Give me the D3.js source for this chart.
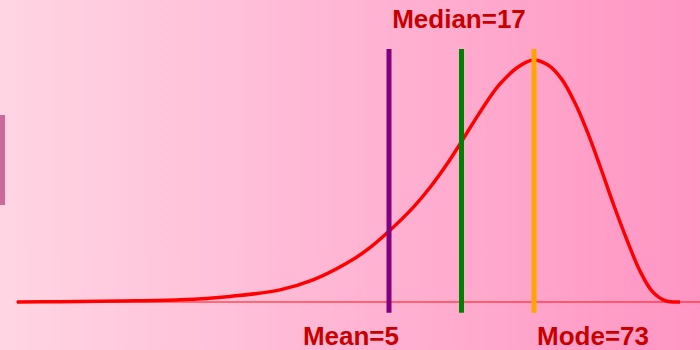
<!DOCTYPE html>
<html>
<head>
<meta charset="utf-8">
<script src="https://cdn.jsdelivr.net/npm/d3@7"></script>
<style>
  html, body { margin: 0; padding: 0; }
  svg { display: block; }
  text { font-family: "Liberation Sans", Arial, sans-serif; font-weight: bold; }
</style>
</head>
<body>
<svg id="chart" width="700" height="350"></svg>
<script>
// Left-skewed density curve (x in arbitrary units, density scaled to peak = 1)
const curveX = [1.7, 6, 12, 18, 23, 28, 31.3, 34.7, 36.7, 38.7, 41.3, 43, 44.7, 46, 47.3, 48.7, 50, 51.7, 53.3, 54.8, 56.2, 57.5, 58.7, 60, 61.3, 62.7, 64, 65.2, 66.5, 68];
const curveY = [0, 0.001, 0.004, 0.009, 0.023, 0.05, 0.091, 0.161, 0.215, 0.285, 0.39, 0.473, 0.57, 0.653, 0.739, 0.829, 0.901, 0.968, 1.0, 0.979, 0.919, 0.822, 0.707, 0.562, 0.409, 0.256, 0.128, 0.045, 0.006, 0];

// Central tendency markers
const statNames = ["Mean", "Median", "Mode"];
const statValues = [5, 17, 73];
const statColors = ["#800080", "#008000", "#ffa500"];

const width = 700, height = 350;
const svg = d3.select("#chart");

// Background gradient
const defs = svg.append("defs");
const grad = defs.append("linearGradient").attr("id", "bg").attr("x1", "0%").attr("x2", "100%").attr("y1", "0%").attr("y2", "0%");
grad.append("stop").attr("offset", "0%").attr("stop-color", "#ffd5e3");
grad.append("stop").attr("offset", "100%").attr("stop-color", "#ff95c3");
svg.append("rect").attr("width", width).attr("height", height).attr("fill", "url(#bg)");

// small tab on the left edge
svg.append("rect").attr("x", 0).attr("y", 115).attr("width", 5).attr("height", 90).attr("fill", "#c96a9b");

const x = d3.scaleLinear().domain([0, 70]).range([0, 700]);
const y = d3.scaleLinear().domain([0, 1]).range([302, 60]);
const statX = d3.scalePoint().domain(statNames).range([389, 534]);

// baseline
svg.append("line")
  .attr("x1", x(1.6)).attr("x2", width)
  .attr("y1", y(0)).attr("y2", y(0))
  .attr("stroke", "#ff0000").attr("stroke-opacity", 0.45).attr("stroke-width", 2);

// density curve
const pts = curveX.map((v, i) => [v, curveY[i]]);
svg.append("path")
  .datum(pts)
  .attr("fill", "none")
  .attr("stroke", "#ff0000")
  .attr("stroke-width", 3.5)
  .attr("stroke-linejoin", "round")
  .attr("d", d3.line().x(d => x(d[0])).y(d => y(d[1])).curve(d3.curveCatmullRom.alpha(0.5)));

// marker lines
svg.selectAll("line.stat")
  .data(statNames)
  .join("line")
  .attr("class", "stat")
  .attr("x1", d => statX(d)).attr("x2", d => statX(d))
  .attr("y1", y(1.045)).attr("y2", y(-0.044))
  .attr("stroke", (d, i) => statColors[i])
  .attr("stroke-width", 5);

// labels
const labelPos = {
  Mean:   { dx: 10,   y: 345, anchor: "end" },
  Median: { dx: -2.5, y: 28,  anchor: "middle" },
  Mode:   { dx: 3,    y: 345, anchor: "start" }
};
svg.selectAll("text.stat")
  .data(statNames)
  .join("text")
  .attr("class", "stat")
  .attr("x", d => statX(d) + labelPos[d].dx)
  .attr("y", d => labelPos[d].y)
  .attr("text-anchor", d => labelPos[d].anchor)
  .attr("font-size", 26)
  .attr("fill", "#c80000")
  .text((d, i) => `${d}=${statValues[i]}`);
</script>
</body>
</html>
